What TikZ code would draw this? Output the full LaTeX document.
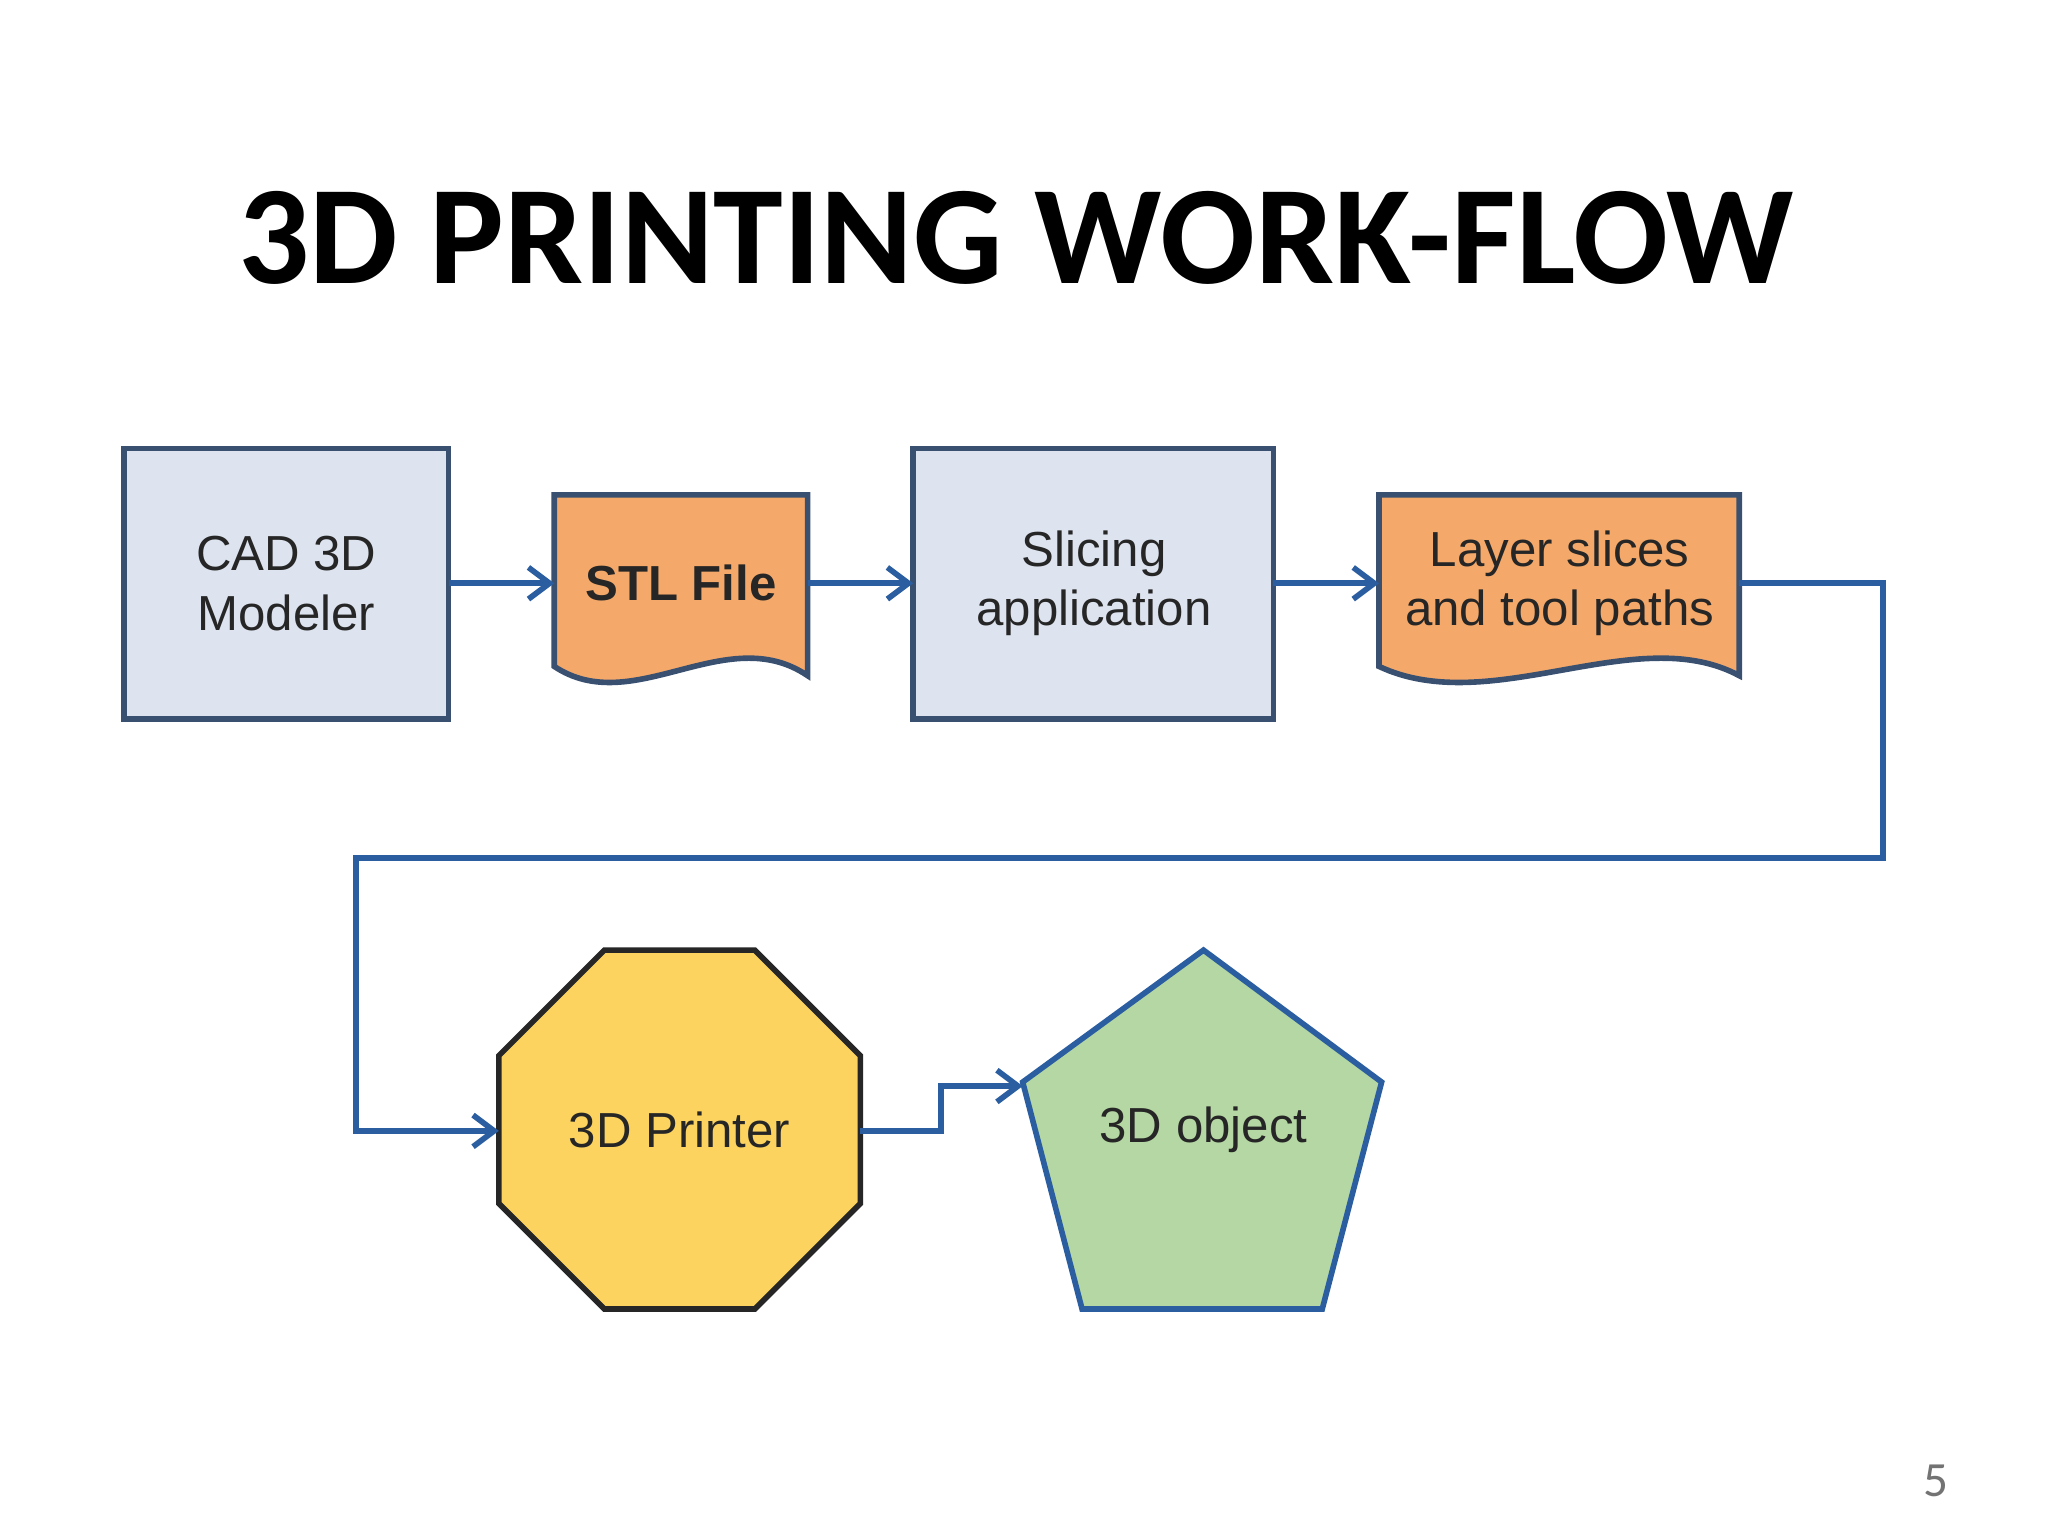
\documentclass[tikz,border=0pt]{standalone}
\usepackage{fontspec}
\setmainfont{Liberation Sans}
\newfontfamily\titlefont{Carlito}
\usetikzlibrary{arrows.meta}
\definecolor{boxfill}{HTML}{DDE4EF}
\definecolor{boxline}{HTML}{3A5070}
\definecolor{docfill}{HTML}{F4A96A}
\definecolor{flow}{HTML}{2A5EA0}
\definecolor{octfill}{HTML}{FBD35E}
\definecolor{pentfill}{HTML}{B5D7A3}
\begin{document}
\begin{tikzpicture}[x=0.013196cm,y=-0.013196cm,
  lbl/.style={font=\fontsize{14}{17}\selectfont, text=black!85, align=center},
  box/.style={draw=boxline, line width=1.6pt, fill=boxfill},
  doc/.style={draw=boxline, line width=1.6pt, fill=docfill},
  conn/.style={draw=flow, line width=1.6pt, -{Straight Barb[length=6pt,width=9pt]}}]
\useasboundingbox[fill=white] (0,0) rectangle (1552,1164);
\node[font=\titlefont\bfseries\fontsize{40}{48}\selectfont] (title) at (770,180) {3D PRINTING WORK-FLOW};
% boxes
\path[box] (94,340) rectangle (340,545);
\node[lbl] (cad) at (217,442) {CAD 3D\\Modeler};
\path[doc] (420,375) -- (612,375) -- (612,512) .. controls (550,470) and (480,545) .. (420,505) -- cycle;
\node[lbl, font=\bfseries\fontsize{14}{17}\selectfont] (stl) at (516,442) {STL File};
\path[box] (692,340) rectangle (965,545);
\node[lbl] (slice) at (829,442) {Slicing\\application};
\path[doc] (1045,375) -- (1318,375) -- (1318,512) .. controls (1240,470) and (1130,545) .. (1045,505) -- cycle;
\node[lbl] (layer) at (1182,442) {Layer slices\\and tool paths};
% octagon
\path[draw=black!85, line width=1.6pt, fill=octfill] (458,720) -- (572,720) -- (652,800) -- (652,912) -- (572,992) -- (458,992) -- (378,912) -- (378,800) -- cycle;
\node[lbl] (printer) at (515,856) {3D Printer};
% pentagon
\path[draw=flow, line width=1.6pt, fill=pentfill] (912,720) -- (1047,820) -- (1002,992) -- (820,992) -- (775,820) -- cycle;
\node[lbl] (object) at (912,856) {3D object};
% anchor coordinates
\coordinate (cadR) at (340,442);
\coordinate (stlL) at (420,442);
\coordinate (stlR) at (612,442);
\coordinate (sliL) at (692,442);
\coordinate (sliR) at (965,442);
\coordinate (layL) at (1045,442);
\coordinate (layR) at (1318,442);
\coordinate (c1) at (1427,442);
\coordinate (c2) at (1427,650);
\coordinate (c3) at (270,650);
\coordinate (c4) at (270,857);
\coordinate (octL) at (378,857);
\coordinate (octR) at (652,857);
\coordinate (j1) at (713,857);
\coordinate (j2) at (713,823);
\coordinate (penL) at (775,823);
\draw[conn] (cadR) -- (stlL);
\draw[conn] (stlR) -- (sliL);
\draw[conn] (sliR) -- (layL);
\draw[conn] (layR) -- (c1) -- (c2) -- (c3) -- (c4) -- (octL);
\draw[conn] (octR) -- (j1) -- (j2) -- (penL);
\node[text=black!55, font=\titlefont\fontsize{14}{17}\selectfont] (page) at (1467,1122) {5};
\end{tikzpicture}
\end{document}
